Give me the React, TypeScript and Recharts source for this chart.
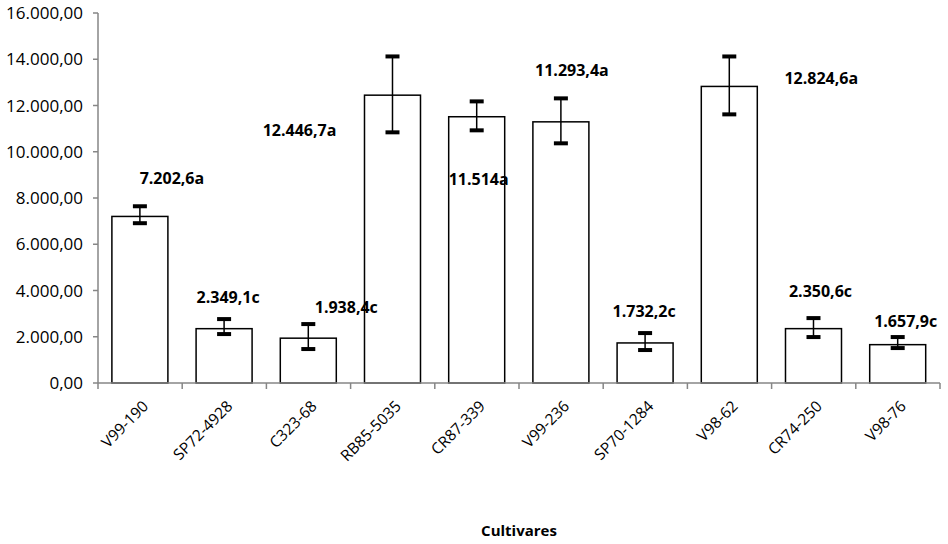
import React from 'react';
import { BarChart, Bar, XAxis, YAxis, LabelList } from 'recharts';

const CULTIVARS = ['V99-190', 'SP72-4928', 'C323-68', 'RB85-5035', 'CR87-339', 'V99-236', 'SP70-1284', 'V98-62', 'CR74-250', 'V98-76'];
const MEANS = [7202.6, 2349.1, 1938.4, 12446.7, 11514, 11293.4, 1732.2, 12824.6, 2350.6, 1657.9];
const ERR_UP = [440, 415, 610, 1675, 664, 1015, 427, 1296, 456, 329];
const ERR_DOWN = [292, 233, 470, 1607, 588, 929, 307, 1208, 364, 147];
const LABELS = ['7.202,6a', '2.349,1c', '1.938,4c', '12.446,7a', '11.514a', '11.293,4a', '1.732,2c', '12.824,6a', '2.350,6c', '1.657,9c'];
const Y_TICKS = [0, 2000, 4000, 6000, 8000, 10000, 12000, 14000, 16000];

// label placement (style): offset from bar top-center, in px
const LABEL_OFFSETS = [
  { dx: 32, dy: -38 },
  { dx: 4, dy: -32 },
  { dx: 38, dy: -31 },
  { dx: -93, dy: 35 },
  { dx: 2, dy: 62 },
  { dx: 11, dy: -52 },
  { dx: -1, dy: -32 },
  { dx: 92, dy: -8 },
  { dx: 7, dy: -38 },
  { dx: 8, dy: -24 },
];

const data = CULTIVARS.map((name, i) => ({
  name,
  value: MEANS[i],
  up: ERR_UP[i],
  down: ERR_DOWN[i],
  label: LABELS[i],
}));

const FONT = '"Open Sans", "Noto Sans", sans-serif';
const AXIS_COLOR = '#868686';

const fmt = (v: number) => {
  const s = Math.round(v).toString().replace(/\B(?=(\d{3})+(?!\d))/g, '.');
  return s + ',00';
};

const BarShape = (props: any) => {
  const { x, y, width, height, payload } = props;
  const k = height / payload.value;
  const cx = x + width / 2;
  const yTop = y - payload.up * k;
  const yBot = y + payload.down * k;
  const capW = 7;
  return (
    <g>
      <rect x={x} y={y} width={width} height={height} fill="#ffffff" stroke="#000000" strokeWidth={1.5} />
      <line x1={cx} x2={cx} y1={yTop} y2={yBot} stroke="#000" strokeWidth={1.5} />
      <line x1={cx - capW} x2={cx + capW} y1={yTop} y2={yTop} stroke="#000" strokeWidth={4} />
      <line x1={cx - capW} x2={cx + capW} y1={yBot} y2={yBot} stroke="#000" strokeWidth={4} />
    </g>
  );
};

const ValueLabel = (props: any) => {
  const { x, y, width, index, value } = props;
  const off = LABEL_OFFSETS[index] || { dx: 0, dy: -20 };
  return (
    <text
      x={x + width / 2 + off.dx}
      y={y + off.dy}
      textAnchor="middle"
      dominantBaseline="central"
      fontFamily={FONT}
      fontWeight="bold"
      fontSize={16}
      fill="#000"
    >
      {value}
    </text>
  );
};

const XTick = (props: any) => {
  const { x, y, payload, index, visibleTicksCount } = props;
  const half = typeof payload.offset === 'number' && payload.offset > 0 ? payload.offset : 42.1;
  const axisY = y - 2;
  const last = index === (visibleTicksCount ?? CULTIVARS.length) - 1;
  return (
    <g>
      <path d={`M${x - half},${axisY}V${axisY + 6}`} stroke={AXIS_COLOR} strokeWidth={1.5} />
      {last && <path d={`M${x + half},${axisY}V${axisY + 6}`} stroke={AXIS_COLOR} strokeWidth={1.5} />}
      <g transform={`translate(${x + 5},${y + 18})`}>
        <text transform="rotate(-45)" textAnchor="end" dominantBaseline="central" fontFamily={FONT} fontSize={15.5} fill="#000">
          {payload.value}
        </text>
      </g>
    </g>
  );
};

export default function App() {
  return (
    <div style={{ position: 'absolute', left: 0, top: 0, background: '#fff' }}>
      <BarChart
        width={948}
        height={544}
        data={data}
        margin={{ top: 13, right: 8, left: 0, bottom: 0 }}
        barCategoryGap="16.5%"
      >
        <XAxis
          dataKey="name"
          interval={0}
          height={161}
          axisLine={{ stroke: AXIS_COLOR, strokeWidth: 1.5 }}
          tickLine={false}
          tickSize={0}
          tickMargin={2}
          tick={<XTick />}
          label={{ value: 'Cultivares', position: 'insideBottom', offset: 8, fontFamily: FONT, fontWeight: 'bold', fontSize: 15, fill: '#000' }}
        />
        <YAxis
          width={98}
          domain={[0, 16000]}
          ticks={Y_TICKS}
          tickFormatter={fmt}
          axisLine={{ stroke: AXIS_COLOR, strokeWidth: 1.5 }}
          tickLine={{ stroke: AXIS_COLOR, strokeWidth: 1.5 }}
          tickSize={5}
          tickMargin={10}
          tick={{ fontFamily: FONT, fontSize: 17, fill: '#000' }}
        />
        <Bar dataKey="value" shape={<BarShape />} isAnimationActive={false}>
          <LabelList dataKey="label" content={<ValueLabel />} />
        </Bar>
      </BarChart>
    </div>
  );
}
